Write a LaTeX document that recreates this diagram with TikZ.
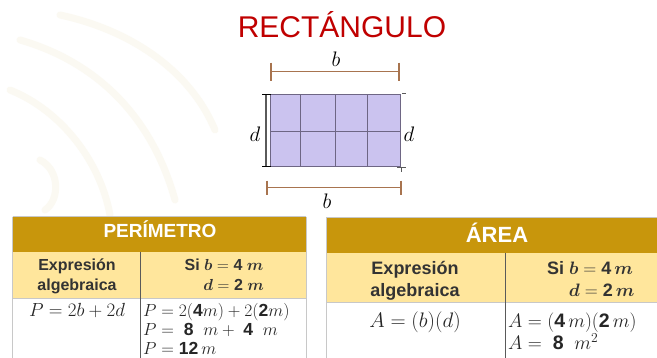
\RequirePackage{fix-cm}
\documentclass[tikz,border=0pt]{standalone}
\usepackage{amsmath,bm}
\usepackage{fontspec}
\setmainfont{Liberation Sans}
\definecolor{titlered}{HTML}{C00000}
\definecolor{gold}{HTML}{C8960C}
\definecolor{paleyel}{HTML}{FFE69C}
\definecolor{lav}{HTML}{CBC3EF}
\definecolor{gridc}{HTML}{6E6684}
\definecolor{dimc}{HTML}{A8744F}
\definecolor{bordl}{HTML}{C8C8C8}
\definecolor{bordd}{HTML}{5A5A5A}
\definecolor{txt}{HTML}{333333}
\definecolor{mtxt}{HTML}{262626}
\definecolor{wm}{HTML}{FBF9F2}
\tikzset{
  titletext/.style={text=titlered, font=\fontsize{30}{34}\selectfont, anchor=base, inner sep=0},
  dimline/.style={draw=dimc, line width=1.6pt},
  gridline/.style={draw=gridc, line width=0.8pt},
  lbl/.style={font=\fontsize{21}{24}\selectfont, anchor=base, inner sep=0},
  headtext/.style={text=white, font=\bfseries\fontsize{#1}{#1}\selectfont, anchor=base, inner sep=0},
  subtext/.style n args={2}{text=txt, font=\bfseries\fontsize{#1}{#2}\selectfont, align=center, anchor=base, inner sep=0},
  mathtext/.style={text=mtxt, font=\fontsize{#1}{#1}\selectfont, inner sep=0},
}
\begin{document}
\begin{tikzpicture}[x=1pt,y=-1pt]
\useasboundingbox (0,0) rectangle (657,358);
\fill[white] (0,0) rectangle (657,358);
% faint watermark
\begin{scope}[draw=wm, line width=7pt, line cap=round]
  \draw (20,40) .. controls (90,60) and (150,110) .. (175,200);
  \draw (10,90) .. controls (60,110) and (100,160) .. (110,215);
  \draw (60,15) .. controls (130,30) and (190,70) .. (215,130);
  \draw (40,160) .. controls (60,170) and (60,200) .. (45,210);
\end{scope}
% title
\node[titletext] (title) at (342,38) {RECTÁNGULO};
% rectangle
\coordinate (r1) at (270.7,94.3);
\coordinate (r2) at (400,166.7);
\fill[lav] (r1) rectangle (r2);
\foreach \x in {300.7,335,367.7} \draw[gridline] (\x,94.3) -- (\x,166.7);
\draw[gridline] (270.7,131.5) -- (400,131.5);
\draw[gridline] (r1) rectangle (r2);
% top dimension
\coordinate (tb1) at (270.7,71.7);
\coordinate (tb2) at (399,71.7);
\draw[dimline] (tb1) -- (tb2);
\draw[dimline] ([yshift=9pt]tb1) -- ([yshift=-9pt]tb1);
\draw[dimline] ([yshift=9pt]tb2) -- ([yshift=-9pt]tb2);
\node[lbl] (btop) at (336,67) {$b$};
% bottom dimension
\coordinate (bb1) at (266.7,187.7);
\coordinate (bb2) at (401,187.7);
\draw[dimline] (bb1) -- (bb2);
\draw[dimline] ([yshift=7pt]bb1) -- ([yshift=-7pt]bb1);
\draw[dimline] ([yshift=7pt]bb2) -- ([yshift=-7pt]bb2);
\node[lbl] (bbot) at (327,209) {$b$};
% left vertical
\coordinate (lv1) at (266,94.3);
\coordinate (lv2) at (266,166.7);
\draw[draw=bordd, line width=1.3pt] (lv1) -- (lv2);
\draw[draw=black, line width=1pt] ([xshift=-4pt]lv1) -- ([xshift=5pt]lv1);
\draw[draw=black, line width=1pt] ([xshift=-4pt]lv2) -- ([xshift=5pt]lv2);
\node[lbl] (dl) at (255,142) {$d$};
\node[lbl] (dr) at (409,142) {$d$};
% right small ticks
\coordinate (rt) at (403,93);
\coordinate (rb) at (401,167);
\draw[draw=bordd, line width=0.8pt] ([xshift=-1pt]rt) -- ([xshift=3pt]rt);
\draw[draw=bordd, line width=0.8pt] ([xshift=-4pt]rb) -- ([xshift=5pt]rb);
\draw[draw=bordd, line width=0.8pt] (rb) -- ([yshift=-5pt]rb);
% ===== left table =====
\fill[gold] (12.7,216.7) rectangle (306,251.7);
\fill[paleyel] (12.7,251.7) rectangle (306,298.3);
\draw[draw=bordl, line width=0.8pt] (12.7,216.7) -- (306,216.7);
\draw[draw=bordl, line width=0.8pt] (12.7,216.7) -- (12.7,358);
\draw[draw=bordl, line width=0.8pt] (306,216.7) -- (306,358);
\draw[draw=bordl, line width=0.8pt] (12.7,298.3) -- (306,298.3);
\draw[draw=bordd, line width=0.9pt] (140.7,251.7) -- (140.7,358);
\node[headtext=19] (hp) at (160,238) {PERÍMETRO};
\node[subtext={16}{20}] (sp1) at (77,291) {Expresión\\algebraica};
\node[subtext={16}{20}] (sp2) at (224,291) {Si $\bm{b}=\mathbf{4}\;\bm{m}$\\\hspace*{1.2em}$\bm{d}=\mathbf{2}\;\bm{m}$};
\node[mathtext=19, anchor=base] (pe) at (77,317) {$P=2b+2d$};
\node[mathtext=17.5, anchor=base west] (p1) at (143,317) {$P=2(\mathbf{4}m)+2(\mathbf{2}m)$};
\node[mathtext=17.5, anchor=base west] (p2) at (143,336) {$P=\;\mathbf{8}\;\;m+\;\mathbf{4}\;\;m$};
\node[mathtext=17.5, anchor=base west] (p3) at (143,355) {$P=\mathbf{12}\,m$};
% ===== right table =====
\fill[gold] (326,217.3) rectangle (668,252.7);
\fill[paleyel] (326,252.7) rectangle (668,302.7);
\draw[draw=bordl, line width=0.8pt] (326,217.3) -- (668,217.3);
\draw[draw=bordl, line width=0.8pt] (326,217.3) -- (326,358);
\draw[draw=bordl, line width=0.8pt] (326,302.7) -- (668,302.7);
\draw[draw=bordd, line width=0.9pt] (505,252.7) -- (505,358);
\node[headtext=22] (ha) at (497,243) {ÁREA};
\node[subtext={18}{22}] (sa1) at (415,297) {Expresión\\algebraica};
\node[subtext={18}{22}] (sa2) at (590,297) {Si $\bm{b}=\mathbf{4}\,\bm{m}$\\\hspace*{1.3em}$\bm{d}=\mathbf{2}\,\bm{m}$};
\node[mathtext=21, anchor=base] (ae) at (415,328) {$A=(b)(d)$};
\node[mathtext=19.5, anchor=base west] (a1) at (508,328) {$A=(\mathbf{4}\,m)(\mathbf{2}\,m)$};
\node[mathtext=19.5, anchor=base west] (a2) at (508,350) {$A=\;\mathbf{8}\;\;m^2$};
\end{tikzpicture}
\end{document}
